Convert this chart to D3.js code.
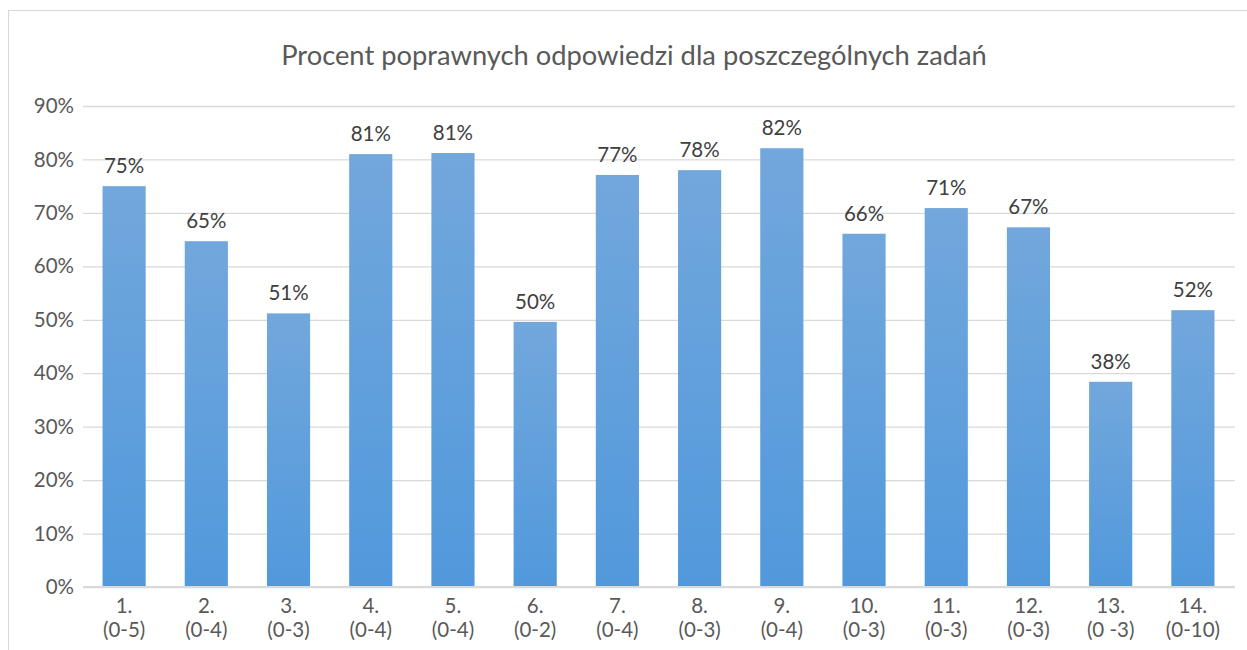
<!DOCTYPE html>
<html>
<head>
<meta charset="utf-8">
<script src="https://cdn.jsdelivr.net/npm/d3@7"></script>
<style>
  body { margin: 0; background: #fff; }
  svg { font-family: Lato, "Open Sans", sans-serif; }
</style>
</head>
<body>
<div id="chart"></div>
<script>
// tasks and their point ranges
const tasks = ["1.", "2.", "3.", "4.", "5.", "6.", "7.", "8.", "9.", "10.", "11.", "12.", "13.", "14."];
const ranges = ["(0-5)", "(0-4)", "(0-3)", "(0-4)", "(0-4)", "(0-2)", "(0-4)", "(0-3)", "(0-4)", "(0-3)", "(0-3)", "(0-3)", "(0 -3)", "(0-10)"];
const correct = [0.750, 0.647, 0.512, 0.810, 0.812, 0.496, 0.771, 0.780, 0.821, 0.661, 0.709, 0.673, 0.384, 0.518];
const yTicks = [0, 0.1, 0.2, 0.3, 0.4, 0.5, 0.6, 0.7, 0.8, 0.9];

const width = 1247, height = 650;
const margin = {left: 83, right: 12, top: 106, bottom: 63};
const fs = 20.5;

const svg = d3.select("#chart").append("svg")
    .attr("width", width)
    .attr("height", height);

// chart frame
svg.append("rect")
    .attr("x", 8.5).attr("y", 10.5)
    .attr("width", width).attr("height", height)
    .attr("fill", "none")
    .attr("stroke", "#d9d9d9");

const grad = svg.append("defs").append("linearGradient")
    .attr("id", "barfill")
    .attr("x1", 0).attr("y1", 0).attr("x2", 0).attr("y2", 1);
grad.append("stop").attr("offset", "0%").attr("stop-color", "#72a7dc");
grad.append("stop").attr("offset", "100%").attr("stop-color", "#5199dc");

const x = d3.scaleBand()
    .domain(tasks)
    .range([margin.left, width - margin.right - 1])
    .paddingInner(0.475)
    .paddingOuter(0.2375);

const y = d3.scaleLinear()
    .domain([0, 0.9])
    .range([height - margin.bottom, margin.top]);

// title
svg.append("text")
    .attr("x", 634).attr("y", 65)
    .attr("text-anchor", "middle")
    .attr("font-size", 27.3)
    .attr("fill", "#595959")
    .text("Procent poprawnych odpowiedzi dla poszczególnych zadań");

// gridlines + y labels
const yAxis = svg.append("g")
    .attr("transform", "translate(" + margin.left + ",0)")
    .call(d3.axisLeft(y).tickValues(yTicks).tickFormat(d3.format(".0%"))
        .tickSize(-(width - margin.right - margin.left)).tickPadding(9));
yAxis.select(".domain").remove();
yAxis.selectAll(".tick line").attr("stroke", "#d9d9d9").attr("stroke-width", 1.3);
yAxis.selectAll(".tick text")
    .attr("fill", "#595959")
    .attr("font-size", fs)
    .attr("font-family", "Lato, sans-serif");

// bars
svg.append("g").selectAll("rect")
    .data(correct)
    .join("rect")
    .attr("x", (d, i) => x(tasks[i]))
    .attr("y", d => y(d))
    .attr("width", x.bandwidth())
    .attr("height", d => y(0) - y(d))
    .attr("fill", "url(#barfill)");

// base line
svg.append("line")
    .attr("x1", margin.left).attr("x2", width - margin.right)
    .attr("y1", y(0)).attr("y2", y(0))
    .attr("stroke", "#d9d9d9").attr("stroke-width", 2);

// value labels
svg.append("g").selectAll("text")
    .data(correct)
    .join("text")
    .attr("x", (d, i) => x(tasks[i]) + x.bandwidth() / 2)
    .attr("y", d => y(d) - 13)
    .attr("text-anchor", "middle")
    .attr("font-size", fs)
    .attr("fill", "#404040")
    .text(d => d3.format(".0%")(d));

// category labels (two lines)
const cat = svg.append("g").selectAll("text")
    .data(tasks)
    .join("text")
    .attr("text-anchor", "middle")
    .attr("font-size", fs)
    .attr("fill", "#595959");
cat.append("tspan")
    .attr("x", d => x(d) + x.bandwidth() / 2)
    .attr("y", y(0) + 26)
    .text(d => d);
cat.append("tspan")
    .attr("x", d => x(d) + x.bandwidth() / 2)
    .attr("y", y(0) + 50)
    .text((d, i) => ranges[i]);
</script>
</body>
</html>
